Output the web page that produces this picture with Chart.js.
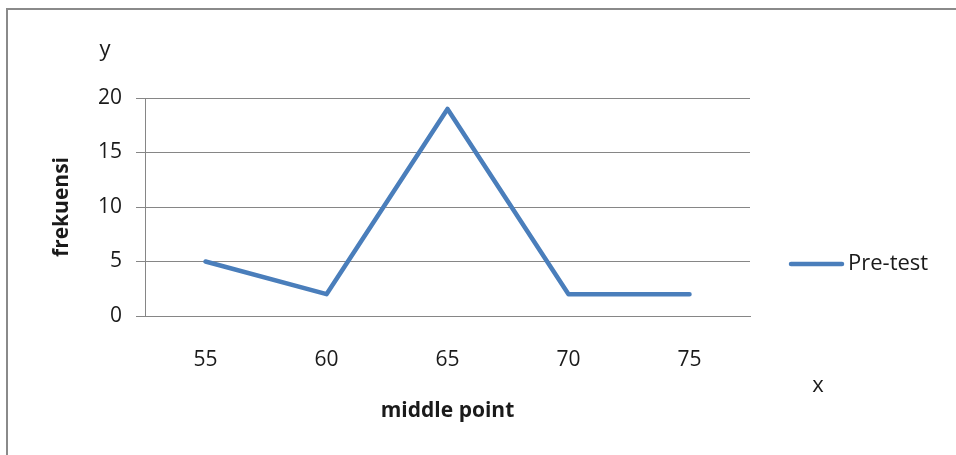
<!DOCTYPE html>
<html>
<head>
<meta charset="utf-8">
<script src="https://cdn.jsdelivr.net/npm/chart.js@4"></script>
<style>
  html, body { margin: 0; padding: 0; background: #fff; }
  #wrap { position: relative; width: 956px; height: 455px; overflow: hidden; }
  #frame { position: absolute; left: 6px; top: 8px; width: 1000px; height: 500px;
           border-top: 2px solid #8a8a8a; border-left: 2px solid #8a8a8a; }
  canvas { position: absolute; left: 0; top: 0; }
</style>
</head>
<body>
<div id="wrap">
  <div id="frame"></div>
  <canvas id="chart" width="956" height="455"></canvas>
</div>
<script>
// middle points of the score classes and their frequencies
const categories = ['55', '60', '65', '70', '75'];
const preTest = [5, 2, 19, 2, 2];
const seriesName = 'Pre-test';
const yTitle = 'frekuensi';
const xTitle = 'middle point';
const yLetter = 'y';
const xLetter = 'x';

const FONT = '"Open Sans", "DejaVu Sans", sans-serif';
const TEXT = '#1a1a1a';
const GRID = '#868686';

// legend and the small axis letters drawn next to the plot
const extras = {
  id: 'extras',
  afterDraw(chart) {
    const ctx = chart.ctx;
    const ds = chart.data.datasets[0];
    ctx.save();
    ctx.strokeStyle = ds.borderColor;
    ctx.lineWidth = ds.borderWidth;
    ctx.lineCap = 'round';
    ctx.beginPath();
    ctx.moveTo(791, 264);
    ctx.lineTo(842, 264);
    ctx.stroke();
    ctx.fillStyle = TEXT;
    ctx.font = '22px ' + FONT;
    ctx.textBaseline = 'middle';
    ctx.textAlign = 'left';
    ctx.fillText(ds.label, 848, 264);
    ctx.textAlign = 'center';
    ctx.fillText(yLetter, 105, 50);
    ctx.fillText(xLetter, 818, 386);
    ctx.restore();
  }
};

new Chart(document.getElementById('chart'), {
  type: 'line',
  data: {
    labels: categories,
    datasets: [{
      label: seriesName,
      data: preTest,
      borderColor: '#4a7ebb',
      backgroundColor: '#4a7ebb',
      borderWidth: 4.5,
      pointRadius: 0,
      tension: 0,
      borderJoinStyle: 'round',
      borderCapStyle: 'round'
    }]
  },
  options: {
    responsive: false,
    animation: false,
    layout: { padding: { left: 0, top: 98, right: 206, bottom: 0 } },
    plugins: { legend: { display: false }, tooltip: { enabled: false } },
    scales: {
      x: {
        offset: true,
        afterFit(s) { s.height = 139; },
        grid: { display: false, drawTicks: false },
        border: { display: true, color: GRID, width: 1 },
        ticks: { color: TEXT, font: { family: FONT, size: 21 }, padding: 31 },
        title: { display: true, text: xTitle, color: TEXT,
                 font: { family: FONT, size: 21, weight: 'bold' },
                 padding: { top: 0, bottom: 31 } }
      },
      y: {
        min: 0, max: 20,
        afterFit(s) { s.width = 145; },
        ticks: { stepSize: 5, color: TEXT, font: { family: FONT, size: 21 }, padding: 14 },
        grid: { color: GRID, lineWidth: 1, tickLength: 9, drawTicks: true },
        border: { display: true, color: GRID, width: 1 },
        title: { display: true, text: yTitle, color: TEXT,
                 font: { family: FONT, size: 21, weight: 'bold' },
                 padding: { top: 49, bottom: 0 } }
      }
    }
  },
  plugins: [extras]
});
</script>
</body>
</html>
